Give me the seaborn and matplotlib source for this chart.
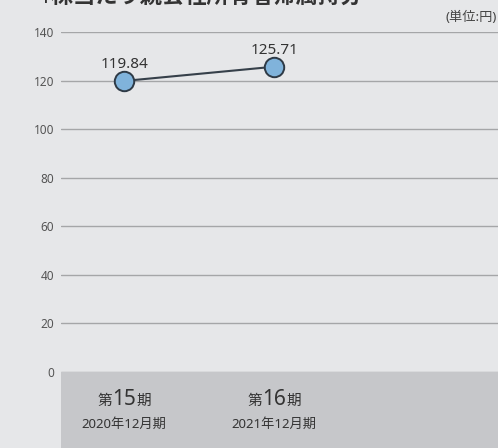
import matplotlib
matplotlib.use("Agg")
import matplotlib.pyplot as plt
import seaborn as sns
import pandas as pd
from matplotlib.patches import Rectangle

periods = ["第15期", "第16期"]
period_nums = ["15", "16"]
fiscal = ["2020年12月期", "2021年12月期"]
values = [119.84, 125.71]
yticks = [0, 20, 40, 60, 80, 100, 120, 140]

sns.set_style("white")
plt.rcParams["font.family"] = ["Noto Sans", "Noto Sans CJK JP", "DejaVu Sans"]

bg = "#e6e7e9"
band = "#c6c7ca"
txt = "#333333"

fig = plt.figure(figsize=(4.98, 4.48), dpi=100, facecolor=bg)
ax = fig.add_axes([61 / 498, 76 / 448, 1 - 61 / 498, 340 / 448])
ax.set_facecolor(bg)

df = pd.DataFrame({"x": range(len(values)), "v": values})

# bottom band behind the category labels
fig.patches.append(Rectangle((61 / 498, 0), 1, 76 / 448, transform=fig.transFigure,
                             facecolor=band, edgecolor="none", zorder=0))

for t in yticks:
    ax.axhline(t, color="#a5a6a8", lw=1, zorder=1)

sns.lineplot(data=df, x="x", y="v", ax=ax, color="#36404a", lw=1.5, zorder=3,
             marker="o", markersize=14, markerfacecolor="#80b3db",
             markeredgecolor="#2e3a46", markeredgewidth=1.4)

for i, v in enumerate(values):
    ax.annotate(f"{v:.2f}", (i, v), xytext=(0, 6.5), textcoords="offset points",
                ha="center", va="bottom", fontsize=11, color=txt)

ax.set_xlim(-0.42, 2.49)
ax.set_ylim(0, 140)
ax.set_yticks(yticks)
ax.set_yticklabels([str(t) for t in yticks], fontsize=8.5, color="#555555")
ax.tick_params(axis="y", length=0, pad=5)
ax.set_xticks([])
ax.set_xlabel("")
ax.set_ylabel("")
for s in ax.spines.values():
    s.set_visible(False)

# category labels in the band: "第" + big number + "期"
fig.canvas.draw()
r = fig.canvas.get_renderer()
W, H = fig.bbox.width, fig.bbox.height
for i in range(len(periods)):
    xp = ax.transData.transform((i, 0))[0]
    t1 = fig.text(xp / W, 1 - 405 / 448, period_nums[i], ha="center", va="baseline",
                  fontsize=15, color=txt, fontweight="light")
    bb = t1.get_window_extent(r)
    fig.text(bb.x0 / W, 1 - 405 / 448, periods[i][0], ha="right", va="baseline",
             fontsize=10.5, color=txt, family="Noto Sans CJK JP")
    fig.text(bb.x1 / W, 1 - 405 / 448, periods[i][-1], ha="left", va="baseline",
             fontsize=10.5, color=txt, family="Noto Sans CJK JP")
    fig.text(xp / W, 1 - 424 / 448, fiscal[i], ha="center", va="center",
             fontsize=9.5, color=txt)

fig.text(497 / 498, 1 - 17 / 448, "(単位:円)", ha="right", va="center",
         fontsize=9.5, color="#444444")
fig.text(38 / 498, 1 - 4 / 448, "1株当たり親会社所有者帰属持分", ha="left", va="baseline",
         fontsize=16, fontweight="bold", color=txt)

fig.savefig("out.png", dpi=100, facecolor=bg)
